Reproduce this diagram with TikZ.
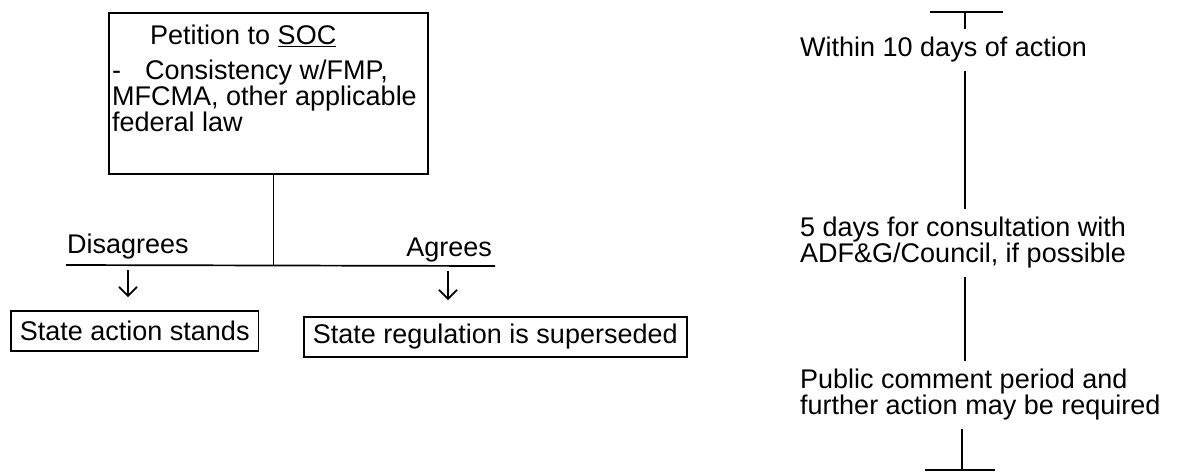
\documentclass[tikz,border=0pt]{standalone}
\usepackage{fontspec}
\setmainfont{Liberation Sans}
\usepackage{tikz}
\usetikzlibrary{arrows.meta, positioning}

\tikzset{
  stagebox/.style={draw, line width=1.8pt, inner xsep=9pt, inner ysep=0pt, minimum height=40pt},
  note/.style={align=left, inner xsep=0pt, inner ysep=8pt},
  link/.style={line width=1.7pt},
  pointer/.style={line width=1.7pt, -{Straight Barb[length=9pt,width=18pt,line width=1.7pt]}},
}

\begin{document}
\begin{tikzpicture}[x=1pt, y=-1pt, font=\fontsize{27}{26}\selectfont]
  \useasboundingbox (0,0) rectangle (1180,472);
  % Petition box
  \node[draw, line width=1.8pt, minimum width=319pt, minimum height=161pt, anchor=north west] (petition) at (108,12) {};
  \node[align=left, inner sep=0pt, anchor=north west] (petitiontxt) at (112,25)
    {\hspace*{38pt}Petition to \underline{SOC}\\[9pt]
     -\hspace{24pt}Consistency w/FMP,\\
     MFCMA, other applicable\\
     federal law};
  % Decision bar
  \coordinate (barL) at (66,265);
  \coordinate (barR) at (495,266);
  \draw[link] ([xshift=5pt]petition.south) -- ([xshift=5pt]petition.south |- barL);
  \draw[link] (barL) -- (barR);
  \node[inner sep=0pt, anchor=base west] (disagrees) at (67,253) {Disagrees};
  \node[inner sep=0pt, anchor=base east] (agrees) at (492,256) {Agrees};
  % Outcomes
  \node[stagebox, anchor=north west] (stands) at (10,310) {State action stands};
  \node[stagebox, anchor=north west] (superseded) at (303,316) {State regulation is superseded};
  \coordinate (disFoot) at (128,265);
  \coordinate (agrFoot) at (448,266);
  \draw[pointer, shorten <=5pt, shorten >=13pt] (disFoot) -- (disFoot |- stands.north);
  \draw[pointer, shorten <=5pt, shorten >=16pt] (agrFoot) -- (agrFoot |- superseded.north);

  % Time line
  \coordinate (capTopL) at (930,12);
  \coordinate (capTopR) at (1003,12);
  \coordinate (capTop) at (965,12);
  \coordinate (capBotL) at (925,470);
  \coordinate (capBotR) at (995,470);
  \coordinate (capBot) at (962,470);
  \node[note, anchor=west] (within) at (800,50) {Within 10 days of action};
  \node[note, anchor=west] (consult) at (800,243) {5 days for consultation with\\ADF\&G/Council, if possible};
  \node[note, anchor=west] (public) at (800,395) {Public comment period and\\further action may be required};
  \draw[link] (capTopL) -- (capTopR);
  \draw[link] (capTop) -- (capTop |- within.north);
  \draw[link] (within.south -| capTop) -- (consult.north -| capTop);
  \draw[link] (consult.south -| capTop) -- (public.north -| capTop);
  \draw[link] (public.south -| capBot) -- (capBot);
  \draw[link] (capBotL) -- (capBotR);
\end{tikzpicture}
\end{document}
